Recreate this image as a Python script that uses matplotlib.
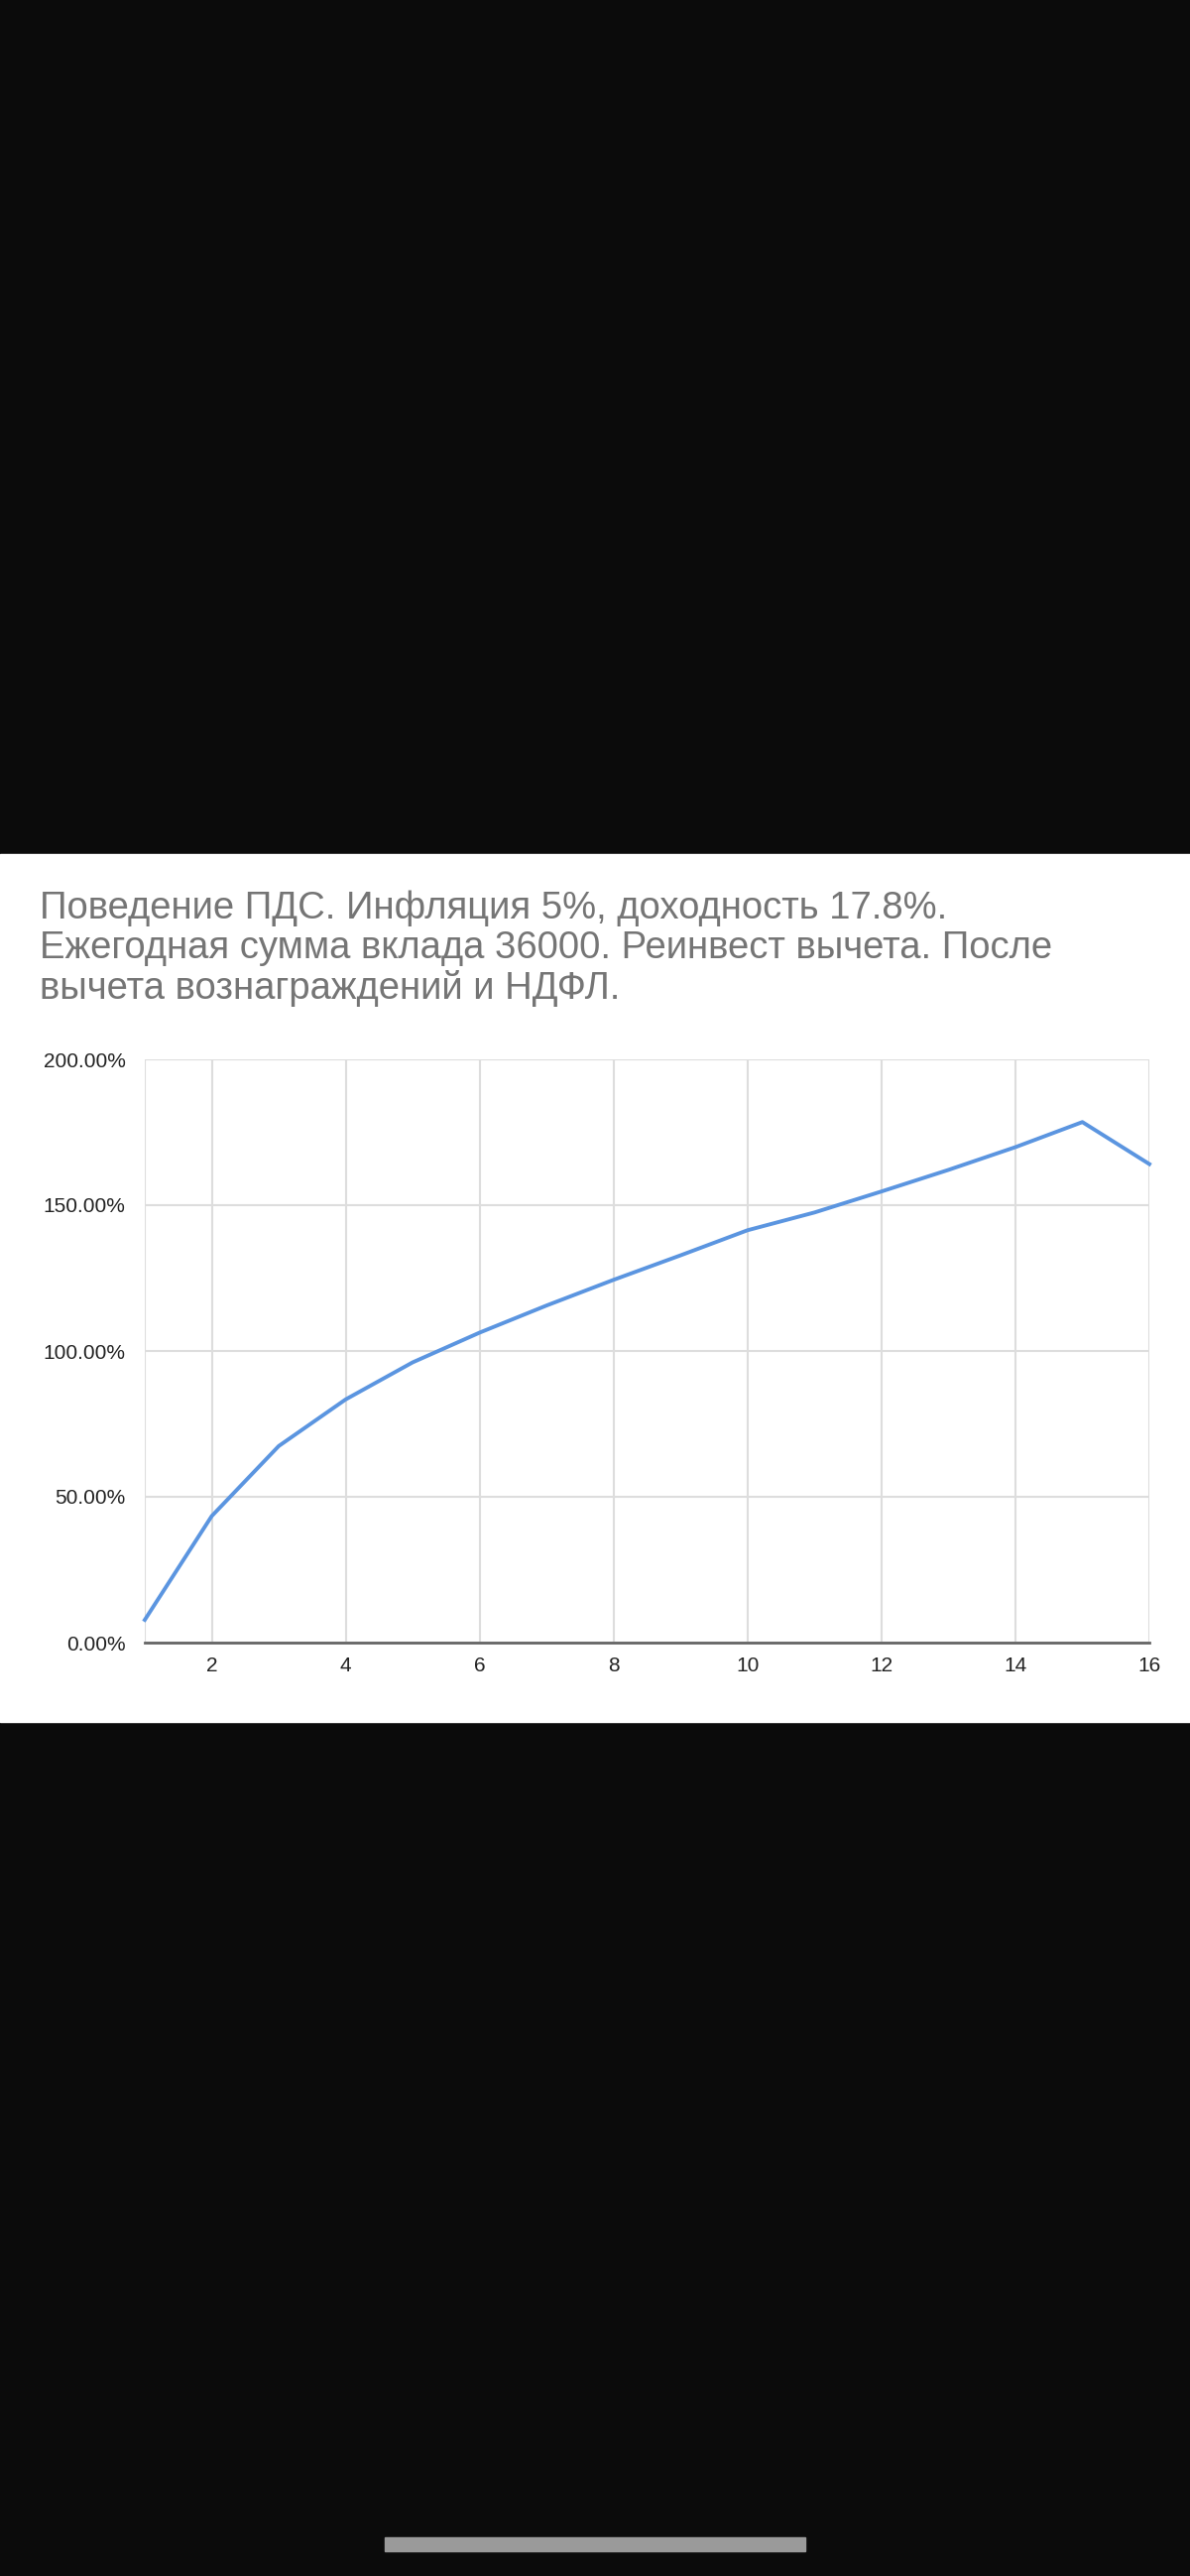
import matplotlib.pyplot as plt
from matplotlib.ticker import FuncFormatter

years = list(range(1, 17))
values = [7.8, 43.4, 67.4, 83.4, 96.1, 106.3, 115.6, 124.4,
          132.8, 141.4, 147.5, 154.7, 162.1, 169.9, 178.5, 164.1]
yticks = [0, 50, 100, 150, 200]
xticks = [2, 4, 6, 8, 10, 12, 14, 16]
title = ("Поведение ПДС. Инфляция 5%, доходность 17.8%.\n"
         "Ежегодная сумма вклада 36000. Реинвест вычета. После\n"
         "вычета вознаграждений и НДФЛ.")

plt.rcParams['font.family'] = ['Liberation Sans', 'DejaVu Sans']

W, H = 1200, 2597
fig = plt.figure(figsize=(W / 100, H / 100), dpi=100, facecolor='#0b0b0b')

# white card
fig.patches.append(plt.Rectangle((0, 1 - 1736 / H), 1, (1736 - 861) / H,
                                 transform=fig.transFigure, color='white', zorder=-5))
# bottom home bar
fig.patches.append(plt.Rectangle((388 / W, 1 - 2572 / H), 424 / W, 14 / H,
                                 transform=fig.transFigure, color='#9a9a9a', zorder=-5))

fig.text(40 / W, 1 - 898 / H, title, fontsize=27.5, color='#757575',
         va='top', ha='left', linespacing=1.13)

ax = fig.add_axes([146 / W, 1 - 1656 / H, (1159 - 146) / W, (1656 - 1068) / H])
ax.set_zorder(5)
ax.set_facecolor('white')
ax.plot(years, values, color='#5b95e0', lw=2.8, zorder=3, clip_on=False)
ax.set_xlim(1, 16)
ax.set_ylim(0, 200)
ax.set_xticks(xticks)
ax.set_yticks(yticks)
ax.yaxis.set_major_formatter(FuncFormatter(lambda v, p: f'{v:.2f}%'))
ax.grid(True, color='#dddddd', lw=1.5)
ax.axvline(1, color='#dddddd', lw=1.5)
for s in ['top', 'right', 'left']:
    ax.spines[s].set_visible(False)
ax.spines['bottom'].set_color('#666666')
ax.spines['bottom'].set_linewidth(2)
ax.tick_params(length=0, labelsize=15, colors='#222222', pad=10)
ax.tick_params(axis='y', pad=14)

fig.savefig('out.png', dpi=100, facecolor=fig.get_facecolor())
